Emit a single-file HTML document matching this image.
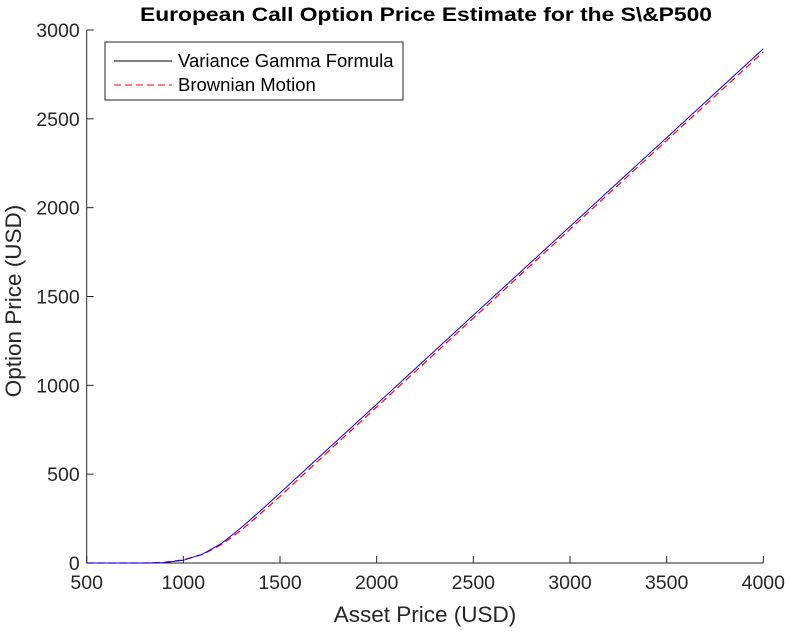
<!DOCTYPE html>
<html><head><meta charset="utf-8"><style>
body{margin:0;background:#fff;}
svg text{font-family:"Liberation Sans",Arial,sans-serif;fill:#262626;}
</style></head><body>
<svg id="chart" width="789" height="630" xmlns="http://www.w3.org/2000/svg">
<rect width="789" height="630" fill="#fff"/>
<text x="426" y="21" text-anchor="middle" font-size="19" font-weight="bold" textLength="572" lengthAdjust="spacingAndGlyphs" style="fill:#000">European Call Option Price Estimate for the S\&amp;P500</text>
<g id="axes"></g>
<g id="series"></g>
<text x="425" y="622" text-anchor="middle" font-size="22.5">Asset Price (USD)</text>
<text transform="translate(21,301) rotate(-90)" text-anchor="middle" font-size="22.5">Option Price (USD)</text>
<g>
<rect x="105" y="42" width="298" height="58" fill="#fff" stroke="#262626" stroke-width="1"/>
<g>
<line x1="114" y1="61" x2="172" y2="61" stroke="#000" stroke-width="1"/>
<text x="178" y="67" font-size="18.5" style="fill:#000">Variance Gamma Formula</text></g>
<g>
<line x1="114" y1="85" x2="172" y2="85" stroke="#f00" stroke-width="1" stroke-dasharray="7,4"/>
<text x="178" y="91" font-size="18.5" style="fill:#000">Brownian Motion</text></g>
</g>
</svg>
<script>
const assetPrices=[500,600,700,800,900,1000,1100,1200,1300,1400,1500,1750,2000,2500,3000,3500,4000];
const vgPrices=[0,0,0,0,2,15,50,112,200,295,394,644,894,1394,1894,2394,2894];
const bmPrices=[0,0,0,0,4,18,48,105,185,278,375,628,878,1378,1878,2378,2876];
const xTicks=[500,1000,1500,2000,2500,3000,3500,4000];
const yTicks=[0,500,1000,1500,2000,2500,3000];
const X0=86.7,X1=763.3,Y0=563,Y1=30;
const xs=v=>X0+(v-500)/3500*(X1-X0);
const ys=v=>Y0-(v/3000)*(Y0-Y1);
const NS="http://www.w3.org/2000/svg";
const axes=document.getElementById('axes');
function mk(tag,attrs,parent){const e=document.createElementNS(NS,tag);for(const k in attrs)e.setAttribute(k,attrs[k]);parent.appendChild(e);return e;}
const xl=mk('line',{x1:X0,y1:Y0,x2:X1,y2:Y0,stroke:'#262626','stroke-width':1},axes);


const yl=mk('line',{x1:X0,y1:Y0,x2:X0,y2:Y1,stroke:'#262626','stroke-width':1},axes);


xTicks.forEach(t=>{
 const x=xs(t);
 mk('line',{x1:x,y1:Y0,x2:x,y2:Y0-7,stroke:'#262626'},axes);
 const tx=mk('text',{x:x,y:Y0+26,'text-anchor':'middle','font-size':19.5},axes);
 tx.textContent=t;
 
 
});
yTicks.forEach(t=>{
 const y=ys(t);
 mk('line',{x1:X0,y1:y,x2:X0+7,y2:y,stroke:'#262626'},axes);
 const tx=mk('text',{x:X0-7,y:y+7,'text-anchor':'end','font-size':19.5},axes);
 tx.textContent=t;
 
 
});
const ser=document.getElementById('series');
function pts(arr){return assetPrices.map((a,i)=>xs(a).toFixed(1)+','+ys(arr[i]).toFixed(1)).join(' ');}
const bm=mk('polyline',{points:pts(bmPrices),fill:'none',stroke:'#f00','stroke-width':1.2,'stroke-dasharray':'7,4'},ser);


const vg=mk('polyline',{points:pts(vgPrices),fill:'none',stroke:'#00f','stroke-width':1},ser);


</script>
</body></html>
